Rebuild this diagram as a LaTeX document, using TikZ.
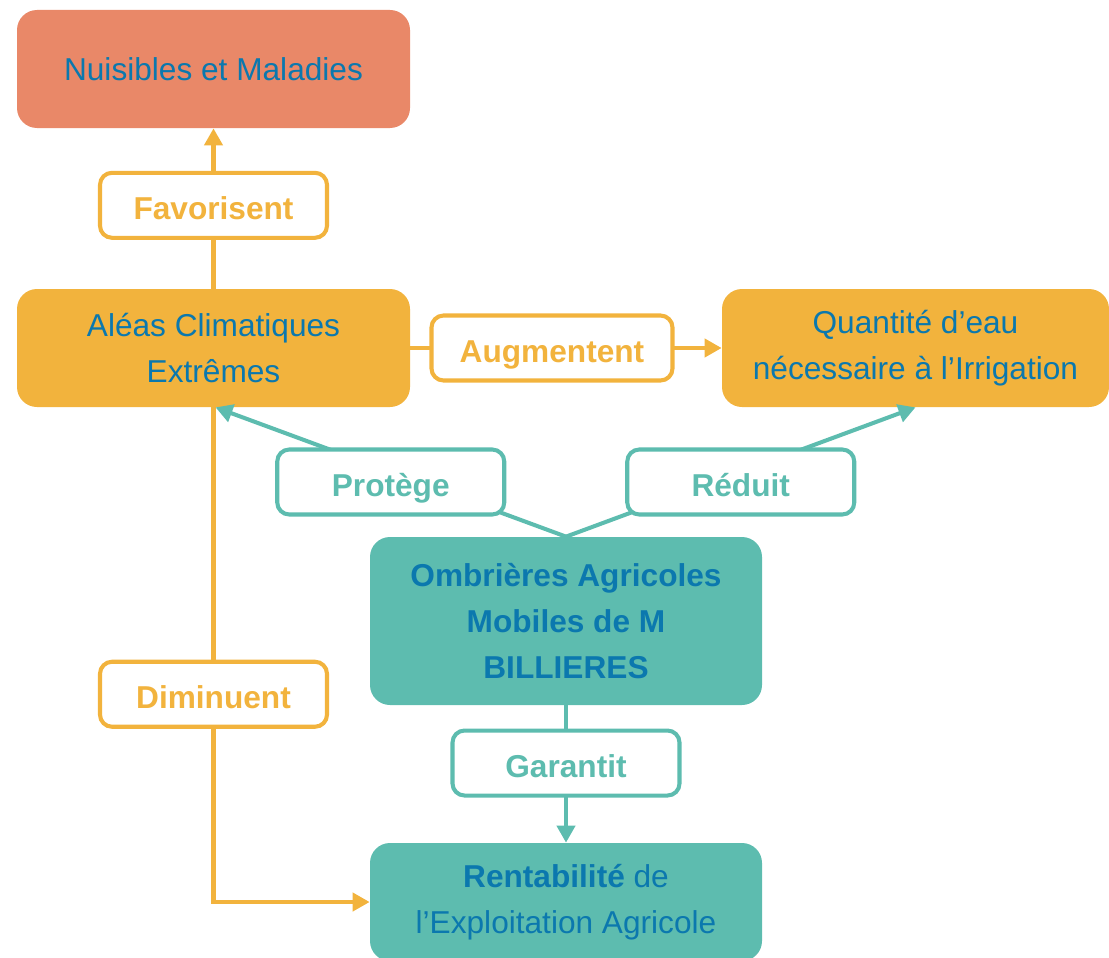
\documentclass[tikz,border=0pt]{standalone}
\usepackage{fontspec}
\setmainfont{Liberation Sans}
\usetikzlibrary{arrows.meta,calc}
\definecolor{saumon}{HTML}{E98868}
\definecolor{orange}{HTML}{F2B33D}
\definecolor{sarcelle}{HTML}{5DBCAF}
\definecolor{bleu}{HTML}{0B78AE}
\begin{document}
\begin{tikzpicture}[
		bloc/.style={rounded corners=0.4cm, minimum height=2.36cm, align=center, text=bleu,
			font=\fontsize{18}{26}\selectfont, inner sep=0pt},
		olien/.style={draw=orange, line width=2.3pt, -{Triangle[length=0.34cm,width=0.36cm]}},
		slien/.style={draw=sarcelle, line width=2.3pt, -{Triangle[length=0.34cm,width=0.36cm]}},
		etiq/.style={rounded corners=0.24cm, fill=white, line width=2.3pt, minimum height=1.3cm,
			minimum width=4.54cm, font=\fontsize{18}{22}\selectfont\bfseries, inner sep=0pt,
			text height=0.57cm, text depth=0cm}
	]
			%%%%% START %%%%%
			\useasboundingbox (0, 0) rectangle (22.18, -19.14);
			
			\node[bloc, fill=saumon, minimum width=7.86cm] (nuis) at (4.27, -1.38) {Nuisibles et Maladies};
			\node[bloc, fill=orange, minimum width=7.86cm] (alea) at (4.27, -6.96) {Aléas Climatiques\\Extrêmes};
			\node[bloc, fill=orange, minimum width=7.74cm] (quant) at (18.31, -6.96) {Quantité d’eau\\nécessaire à l’Irrigation};
			\node[bloc, fill=sarcelle, minimum width=7.84cm, minimum height=3.36cm, font=\fontsize{18}{26}\selectfont\bfseries] (ombr) at (11.32, -12.42) {Ombrières Agricoles\\Mobiles de M\\BILLIERES};
			\node[bloc, fill=sarcelle, minimum width=7.84cm] (rent) at (11.32, -18.04) {\textbf{Rentabilité} de\\l’Exploitation Agricole};
			
			\draw[olien] (alea.north) -- node[etiq, draw=orange, text=orange, pos=0.52] (fav) {Favorisent} (nuis.south);
			\draw[olien] (alea.east) -- node[etiq, draw=orange, text=orange, minimum width=4.82cm, pos=0.455] (aug) {Augmentent} (quant.west);
			\draw[olien] (alea.south) |- node[etiq, draw=orange, text=orange, pos=0.29] (dim) {Diminuent} (rent.west);
			
			\draw[slien] (ombr.north) -- node[etiq, draw=sarcelle, text=sarcelle, pos=0.5, yshift=-0.2cm] (prot) {Protège} ($(alea.south)+(0.04, 0)$);
			\draw[slien] (ombr.north) -- node[etiq, draw=sarcelle, text=sarcelle, pos=0.5, yshift=-0.2cm] (red) {Réduit} (quant.south);
			\draw[slien] (ombr.south) -- node[etiq, draw=sarcelle, text=sarcelle, pos=0.42] (gar) {Garantit} (rent.north);
			
			%%%%% END %%%%%
\end{tikzpicture}
\end{document}
